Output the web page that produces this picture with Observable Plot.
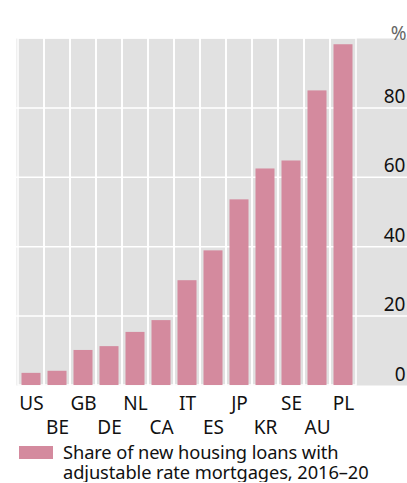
<!DOCTYPE html>
<html>
<head>
<meta charset="utf-8">
<script src="https://cdn.jsdelivr.net/npm/d3@7"></script>
<script src="https://cdn.jsdelivr.net/npm/@observablehq/plot@0.6"></script>
<style>
  body { margin: 0; background: white; font-family: "Noto Sans", sans-serif; }
  #legend { display: flex; align-items: flex-start; margin-top: 2px; }
  #legend .sw { width: 34px; height: 13px; background: #d48a9e; margin-left: 19px; margin-top: 4px; flex: none; }
  #legend .tx { margin-left: 10px; font-size: 18.3px; line-height: 20px; color: #111; letter-spacing: -0.1px; }
</style>
</head>
<body>
<div id="chart"></div>
<div id="legend"><div class="sw"></div><div class="tx" id="legendText"></div></div>
<script>
const countries = ["US","BE","GB","DE","NL","CA","IT","ES","JP","KR","SE","AU","PL"];
const values = [3.5, 4.1, 10.1, 11.2, 15.3, 18.7, 30.2, 38.8, 53.5, 62.4, 64.7, 84.9, 98.2];
const yTicks = [0, 20, 40, 60, 80];
const unitLabel = "%";
const seriesLabel = "Share of new housing loans with adjustable rate mortgages, 2016\u201320";

const data = countries.map((c, i) => ({country: c, value: values[i]}));
const rightM = 49;

const chart = Plot.plot({
  width: 407, height: 440,
  marginTop: 38, marginBottom: 55, marginLeft: 16, marginRight: rightM,
  style: {fontFamily: "Noto Sans", fontSize: "19px", color: "#111", background: "white", overflow: "visible"},
  x: {domain: countries, padding: 0, label: null},
  y: {domain: [0, 100], label: null},
  marks: [
    Plot.frame({fill: "#e1e1e1", stroke: null, insetRight: -rightM}),
    Plot.ruleY(yTicks.slice(1), {stroke: "white", strokeWidth: 1.5, insetRight: -rightM}),
    Plot.barY(countries, {x: d => d, y1: 0, y2: 100, fill: "none", stroke: "white", strokeWidth: 1.5}),
    Plot.barY(data, {x: "country", y: "value", fill: "#d48a9e", insetLeft: 3.5, insetRight: 3.5}),
    Plot.axisY(yTicks, {anchor: "right", tickSize: 0, tickPadding: 0, textAnchor: "end", dx: 47, dy: -11, label: null, fontSize: 19}),
    Plot.text([unitLabel], {frameAnchor: "top-right", text: d => d, textAnchor: "end", dx: 48, dy: -12, fill: "#666", fontSize: 19}),
    Plot.axisX(countries.filter((d, i) => i % 2 === 0), {tickSize: 0, tickPadding: 11, label: null, fontSize: 19}),
    Plot.axisX(countries.filter((d, i) => i % 2 === 1), {tickSize: 0, tickPadding: 35, label: null, fontSize: 19})
  ]
});
document.getElementById("chart").appendChild(chart);
document.getElementById("legendText").textContent = seriesLabel;
</script>
</body>
</html>
